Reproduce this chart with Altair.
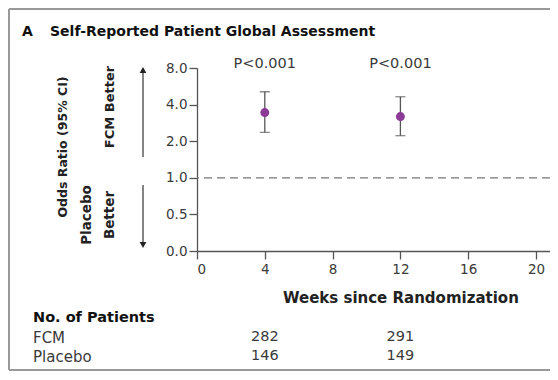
import altair as alt
import pandas as pd

# ---- data ----
weeks = [4, 12]
odds_ratio = [3.44, 3.19]
ci_low = [2.36, 2.22]
ci_high = [5.1, 4.64]
p_labels = ["P<0.001", "P<0.001"]
n_fcm = [282, 291]
n_placebo = [146, 149]
y_ticks = [0.25, 0.5, 1, 2, 4, 8]
x_ticks = [0, 4, 8, 12, 16, 20]

FONT = "DejaVu Sans"
PURPLE = "#8B3A96"
GRAY = "#555555"
TXT = "#3a3a3a"

df = pd.DataFrame({"week": weeks, "or": odds_ratio, "lo": ci_low, "hi": ci_high,
                   "p": p_labels, "fcm": n_fcm, "pla": n_placebo})
one = pd.DataFrame({"d": [0]})

PX_PER_WEEK = 16.95
W, H = 353, 183

x_enc = alt.X("week:Q", scale=alt.Scale(domain=[0, W / PX_PER_WEEK], nice=False, zero=False),
              axis=alt.Axis(values=x_ticks, format="d", title="Weeks since Randomization",
                            titleX=12 * PX_PER_WEEK, titleY=46, titleAlign="center",
                            titleBaseline="middle", titleFontWeight="bold", titleFontSize=15,
                            titleColor="#222", labelPadding=3))
y_scale = alt.Scale(type="log", base=2, domain=[0.25, 8], nice=False)
y_axis = alt.Axis(values=y_ticks, title=None, labelPadding=2,
                  labelExpr="datum.value < 0.3 ? '0.0' : format(datum.value, '.1f')")

base = alt.Chart(df)

ref = alt.Chart(one).mark_rule(color="#777", strokeDash=[8, 5], strokeWidth=1.2).encode(
    y=alt.datum(1, scale=y_scale, axis=y_axis))

err = base.mark_errorbar(ticks=True, color=GRAY, thickness=1.3, size=10).encode(
    x=x_enc, y=alt.Y("lo:Q", scale=y_scale, axis=y_axis, title=None), y2="hi:Q")

pts = base.mark_circle(size=80, color=PURPLE, opacity=1).encode(
    x="week:Q", y=alt.Y("or:Q", scale=y_scale))

ptxt = base.mark_text(font=FONT, fontSize=14.5, color=TXT, baseline="middle").encode(
    x="week:Q", y=alt.value(-4), text="p:N")

nf = base.mark_text(font=FONT, fontSize=14.5, color=TXT, baseline="middle").encode(
    x="week:Q", y=alt.value(269), text="fcm:Q")
npl = base.mark_text(font=FONT, fontSize=14.5, color=TXT, baseline="middle").encode(
    x="week:Q", y=alt.value(288), text="pla:Q")

def label(txt, x, y, size=13, weight="normal", align="left", angle=0, color=TXT):
    kw = dict(font=FONT, fontSize=size, fontWeight=weight, align=align,
              baseline="middle", color=color, text=txt)
    if angle:
        kw["angle"] = angle
    return alt.Chart(one).mark_text(**kw).encode(x=alt.value(x), y=alt.value(y))

texts = [
    label("A", -175, -36, size=14, weight="bold", color="#111"),
    label("Self-Reported Patient Global Assessment", -147, -36, size=14, weight="bold", color="#111"),
    label("Odds Ratio (95% CI)", -134, 79, size=12.5, weight="bold", align="center", angle=270, color="#222"),
    label("FCM Better", -87, 39, size=13, weight="bold", align="center", angle=270, color="#222"),
    label("Placebo", -110, 147, size=13.5, weight="bold", align="center", angle=270, color="#222"),
    label("Better", -87, 147, size=13.5, weight="bold", align="center", angle=270, color="#222"),
    label("No. of Patients", -164, 250, size=14.5, weight="bold", color="#111"),
    label("FCM", -164, 270, size=15),
    label("Placebo", -164, 289, size=15),
]

arrow_up = alt.Chart(one).mark_rule(color="#333", strokeWidth=1.2).encode(
    x=alt.value(-54), y=alt.value(89), y2=alt.value(3))
head_up = alt.Chart(one).mark_point(shape="triangle-up", filled=True, color="#222", size=45, opacity=1).encode(
    x=alt.value(-54), y=alt.value(2))
arrow_dn = alt.Chart(one).mark_rule(color="#333", strokeWidth=1.2).encode(
    x=alt.value(-54), y=alt.value(117), y2=alt.value(175))
head_dn = alt.Chart(one).mark_point(shape="triangle-down", filled=True, color="#222", size=45, opacity=1).encode(
    x=alt.value(-54), y=alt.value(177))

BL, BT, BB, BR = -188, -59, 302, 360
frame = [
    alt.Chart(one).mark_rule(color="#999", strokeWidth=2).encode(
        x=alt.value(BL), x2=alt.value(BR), y=alt.value(BT)),
    alt.Chart(one).mark_rule(color="#999", strokeWidth=2).encode(
        x=alt.value(BL), x2=alt.value(BR), y=alt.value(BB)),
    alt.Chart(one).mark_rule(color="#999", strokeWidth=2).encode(
        x=alt.value(BL), y=alt.value(BT), y2=alt.value(BB)),
]

chart = alt.layer(*frame, ref, err, pts, ptxt, nf, npl, arrow_up, head_up, arrow_dn, head_dn, *texts).properties(
    width=W, height=H,
    autosize=alt.AutoSizeParams(type="none"),
    padding={"left": 189, "top": 60, "right": 0, "bottom": 120},
).configure_view(stroke=None).configure_axis(
    grid=False, labelFont=FONT, labelFontSize=13.5, labelColor=TXT,
    titleFont=FONT, domainColor=GRAY, tickColor=GRAY, domainWidth=1.3, tickWidth=1.3, tickSize=8,
)

chart.save("out.html", embed_options={"renderer": "svg", "actions": False})
